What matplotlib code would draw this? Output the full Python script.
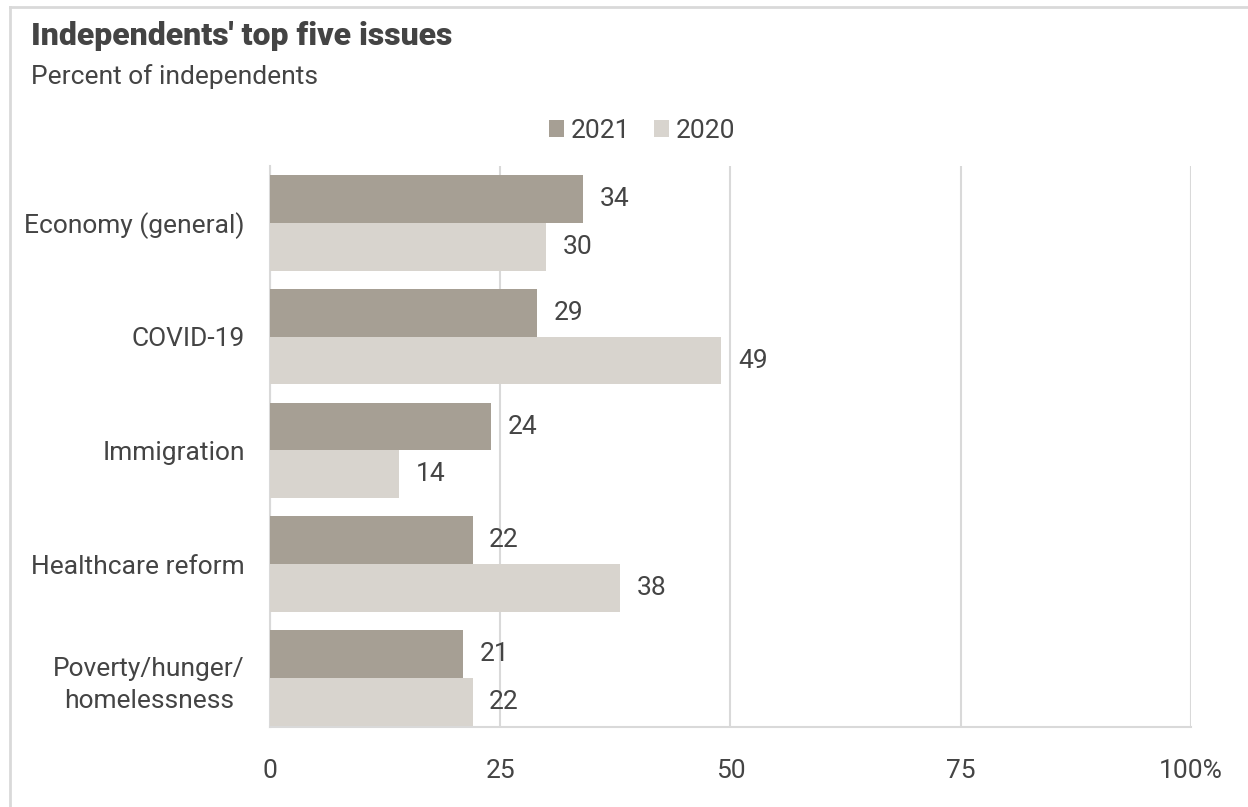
import numpy as np
import matplotlib.pyplot as plt
from matplotlib.lines import Line2D

plt.rcParams['font.family'] = ['Roboto', 'DejaVu Sans']

# Datos
categorias = ["Economy (general)", "COVID-19", "Immigration",
              "Healthcare reform", "Poverty/hunger/\nhomelessness"]
v2021 = [34, 29, 24, 22, 21]
v2020 = [30, 49, 14, 38, 22]
ticks = [0, 25, 50, 75, 100]
tick_labels = ["0", "25", "50", "75", "100%"]

c2021 = "#a69f94"
c2020 = "#d8d4ce"
texto = "#444444"
gris = "#d9d9d9"
fs = 19

fig = plt.figure(figsize=(12.48, 8.07), dpi=100)
ax = fig.add_axes([0.2163, 0.0991, 0.738, 0.6952])

y = np.arange(len(categorias))
h = 0.42
b1 = ax.barh(y - h/2, v2021, height=h, color=c2021, label="2021", zorder=3)
b2 = ax.barh(y + h/2, v2020, height=h, color=c2020, label="2020", zorder=3)

for barras in (b1, b2):
    for b in barras:
        ax.annotate(f"{b.get_width():.0f}", (b.get_width(), b.get_y() + b.get_height()/2),
                    xytext=(12, 0), textcoords="offset points", va="center", ha="left",
                    fontsize=fs, color=texto)

ax.set_xlim(0, 100)
ax.set_ylim(4.43, -0.5)
ax.set_xticks(ticks)
ax.set_xticklabels(tick_labels)
ax.set_yticks(y)
ax.set_yticklabels(categorias, multialignment="center", linespacing=1.45)
ax.tick_params(axis="both", length=0, labelsize=fs, labelcolor=texto)
ax.tick_params(axis="x", pad=23)
ax.tick_params(axis="y", pad=18)
ax.grid(axis="x", color=gris, linewidth=1.5, zorder=0)

for s in ["top", "right"]:
    ax.spines[s].set_visible(False)
for s in ["left", "bottom"]:
    ax.spines[s].set_color(gris)
    ax.spines[s].set_linewidth(1.5)

# Titulo
fig.text(0.0248, 1 - 45/807, "Independents' top five issues", fontsize=23,
         fontweight="heavy", color=texto, va="baseline")
fig.text(0.0248, 1 - 84/807, "Percent of independents", fontsize=19,
         color=texto, va="baseline")

fig.legend(handles=[b1, b2], loc="center", bbox_to_anchor=(642/1248, 1 - 131/807),
           ncol=2, frameon=False, fontsize=fs, handlelength=0.58, handleheight=0.58,
           handletextpad=0.25, columnspacing=0.9, labelcolor=texto)

# Marco
fig.add_artist(Line2D([10/1248, 10/1248], [0, 1 - 7/807], transform=fig.transFigure,
                      color=gris, linewidth=2))
fig.add_artist(Line2D([10/1248, 1], [1 - 7/807, 1 - 7/807], transform=fig.transFigure,
                      color=gris, linewidth=2))

fig.savefig("out.png", dpi=100)
